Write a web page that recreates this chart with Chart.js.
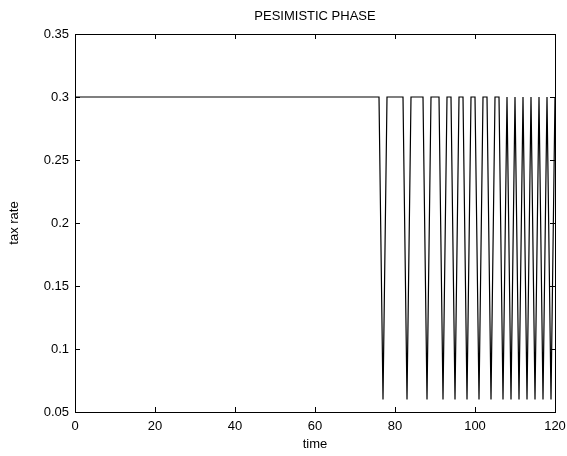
<!DOCTYPE html>
<html>
<head>
<meta charset="utf-8">
<script src="https://cdn.jsdelivr.net/npm/chart.js@4/dist/chart.umd.min.js"></script>
<style>
  html, body { margin: 0; padding: 0; background: #fff; }
  #wrap { width: 567px; height: 456px; }
</style>
</head>
<body>
<div id="wrap"><canvas id="taxChart" width="567" height="456"></canvas></div>
<script>
// Tax rate path over time (only the corners of the line are listed)
const time = [0, 76, 77, 78, 82, 83, 84, 87, 88, 89, 91, 92, 93, 94, 95, 96, 97, 98, 99,
  100, 101, 102, 103, 104, 105, 106, 107, 108, 109, 110, 111, 112, 113, 114, 115, 116,
  117, 118, 119, 120];
const taxRate = [0.3, 0.3, 0.06, 0.3, 0.3, 0.06, 0.3, 0.3, 0.06, 0.3, 0.3, 0.06, 0.3, 0.3,
  0.06, 0.3, 0.3, 0.06, 0.3, 0.3, 0.06, 0.3, 0.3, 0.06, 0.3, 0.3, 0.06, 0.3, 0.06, 0.3,
  0.06, 0.3, 0.06, 0.3, 0.06, 0.3, 0.06, 0.3, 0.06, 0.3];

// Axis ticks
const xTicks = [0, 20, 40, 60, 80, 100, 120];
const xTickLabels = ['0', '20', '40', '60', '80', '100', '120'];
const yTicks = [0.05, 0.1, 0.15, 0.2, 0.25, 0.3, 0.35];
const yTickLabels = ['0.05', '0.1', '0.15', '0.2', '0.25', '0.3', '0.35'];

const FONT = 'Liberation Sans, Arial, Helvetica, sans-serif';

// Box around the plot, inward ticks on all four sides, title over the plot
const matlabFrame = {
  id: 'matlabFrame',
  afterDraw(chart) {
    const ctx = chart.ctx;
    const a = chart.chartArea;
    const xs = chart.scales.x;
    const ys = chart.scales.y;
    const len = 5;
    ctx.save();
    ctx.strokeStyle = '#000';
    ctx.lineWidth = 1;
    ctx.beginPath();
    xTicks.forEach(v => {
      const px = Math.round(xs.getPixelForValue(v)) + 0.5;
      ctx.moveTo(px, a.bottom); ctx.lineTo(px, a.bottom - len);
      ctx.moveTo(px, a.top); ctx.lineTo(px, a.top + len);
    });
    yTicks.forEach(v => {
      const py = Math.round(ys.getPixelForValue(v)) + 0.5;
      ctx.moveTo(a.left, py); ctx.lineTo(a.left + len, py);
      ctx.moveTo(a.right, py); ctx.lineTo(a.right - len, py);
    });
    ctx.stroke();
    ctx.strokeRect(Math.round(a.left) + 0.5, Math.round(a.top) + 0.5,
      Math.round(a.right - a.left), Math.round(a.bottom - a.top));

    ctx.fillStyle = '#000';
    ctx.font = '13px ' + FONT;
    ctx.textAlign = 'center';
    ctx.textBaseline = 'middle';
    ctx.fillText('PESIMISTIC PHASE', (a.left + a.right) / 2, 16);
    ctx.restore();
  }
};

new Chart(document.getElementById('taxChart'), {
  type: 'scatter',
  data: {
    datasets: [{
      label: 'tax rate',
      data: time.map((t, i) => ({ x: t, y: taxRate[i] })),
      showLine: true,
      borderColor: '#000',
      borderWidth: 1.2,
      pointRadius: 0,
      tension: 0
    }]
  },
  options: {
    responsive: false,
    animation: false,
    layout: { padding: { top: 34, right: 12, left: 0, bottom: 0 } },
    plugins: {
      legend: { display: false },
      tooltip: { enabled: false },
      title: { display: false }
    },
    scales: {
      x: {
        type: 'linear',
        min: 0,
        max: 120,
        border: { display: false },
        grid: { display: false, drawTicks: false },
        afterBuildTicks: scale => { scale.ticks = xTicks.map(v => ({ value: v })); },
        afterFit: scale => {
          scale.height = 44;
          scale.paddingLeft = 0;
          scale.paddingRight = 0;
        },
        ticks: {
          padding: 7,
          color: '#000',
          font: { size: 13, family: FONT },
          maxRotation: 0,
          callback: (v, i) => xTickLabels[i]
        },
        title: {
          display: true,
          text: 'time',
          color: '#000',
          font: { size: 13, family: FONT },
          padding: { top: 0, bottom: 4 }
        }
      },
      y: {
        type: 'linear',
        min: 0.05,
        max: 0.35,
        border: { display: false },
        grid: { display: false, drawTicks: false },
        afterBuildTicks: scale => { scale.ticks = yTicks.map(v => ({ value: v })); },
        afterFit: scale => {
          scale.width = 75;
          scale.paddingTop = 0;
          scale.paddingBottom = 0;
        },
        ticks: {
          padding: 6,
          color: '#000',
          font: { size: 13, family: FONT },
          callback: (v, i) => yTickLabels[i]
        },
        title: {
          display: true,
          text: 'tax rate',
          color: '#000',
          font: { size: 13, family: FONT },
          padding: { top: 7, bottom: 0 }
        }
      }
    }
  },
  plugins: [matlabFrame]
});
</script>
</body>
</html>
